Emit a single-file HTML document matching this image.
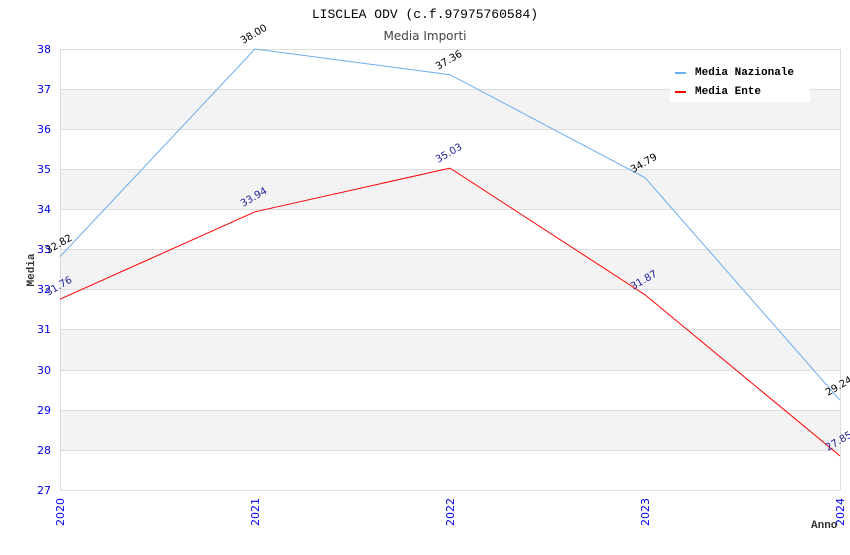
<!DOCTYPE html><html><head><style>body{margin:0;background:#fff}</style></head><body>
<svg width="850" height="550" xmlns="http://www.w3.org/2000/svg" font-family="DejaVu Sans, sans-serif">
<rect width="850" height="550" fill="#fff"/>
<g fill="#f3f3f3">
<rect x="60" y="89" width="780" height="40"/><rect x="60" y="169" width="780" height="40"/><rect x="60" y="249" width="780" height="40"/><rect x="60" y="329" width="780" height="41"/><rect x="60" y="410" width="780" height="40"/>
</g>
<g stroke="#ddd" stroke-width="1">
<line x1="60" y1="49.5" x2="840" y2="49.5"/><line x1="60" y1="89.5" x2="840" y2="89.5"/><line x1="60" y1="129.5" x2="840" y2="129.5"/><line x1="60" y1="169.5" x2="840" y2="169.5"/><line x1="60" y1="209.5" x2="840" y2="209.5"/><line x1="60" y1="249.5" x2="840" y2="249.5"/><line x1="60" y1="289.5" x2="840" y2="289.5"/><line x1="60" y1="329.5" x2="840" y2="329.5"/><line x1="60" y1="370.5" x2="840" y2="370.5"/><line x1="60" y1="410.5" x2="840" y2="410.5"/><line x1="60" y1="450.5" x2="840" y2="450.5"/><line x1="60" y1="490.5" x2="840" y2="490.5"/>
<line x1="60.5" y1="49" x2="60.5" y2="490"/><line x1="840.5" y1="49" x2="840.5" y2="490"/>
</g>
<g fill="#0000ee" font-size="11" text-anchor="end">
<text x="51" y="53">38</text><text x="51" y="93">37</text><text x="51" y="133">36</text><text x="51" y="173">35</text><text x="51" y="213">34</text><text x="51" y="253">33</text><text x="51" y="293">32</text><text x="51" y="333">31</text><text x="51" y="374">30</text><text x="51" y="414">29</text><text x="51" y="454">28</text><text x="51" y="494">27</text>
</g>
<g fill="#0000ee" font-size="11" text-anchor="end">
<text transform="translate(64,498) rotate(-90)">2020</text><text transform="translate(259,498) rotate(-90)">2021</text><text transform="translate(454,498) rotate(-90)">2022</text><text transform="translate(649,498) rotate(-90)">2023</text><text transform="translate(844,498) rotate(-90)">2024</text>
</g>
<text x="425" y="18" text-anchor="middle" font-family="Liberation Mono, monospace" font-size="13" fill="#000">LISCLEA ODV (c.f.97975760584)</text>
<text x="425" y="40" text-anchor="middle" font-size="12" fill="#444">Media Importi</text>
<text transform="translate(34,270) rotate(-90)" text-anchor="middle" font-family="Liberation Mono, monospace" font-weight="bold" font-size="11" fill="#333">Media</text>
<text x="811" y="528" font-family="Liberation Mono, monospace" font-weight="bold" font-size="11" fill="#333">Anno</text>
<polyline fill="none" stroke="#6aaef0" stroke-width="1" points="60,256.7 255,49 450,74.7 645,177.7 840,400.2"/>
<polyline fill="none" stroke="#ff0000" stroke-width="1" points="60,299.2 255,211.8 450,168.1 645,294.8 840,455.9"/>
<g font-size="10" fill="#000">
<text transform="translate(48,254) rotate(-30)">32.82</text><text transform="translate(243,44) rotate(-30)">38.00</text><text transform="translate(438,70) rotate(-30)">37.36</text><text transform="translate(633,173) rotate(-30)">34.79</text><text transform="translate(828,396) rotate(-30)">29.24</text>
</g>
<g font-size="10" fill="#22229a">
<text transform="translate(48,296) rotate(-30)">31.76</text><text transform="translate(243,207) rotate(-30)">33.94</text><text transform="translate(438,163) rotate(-30)">35.03</text><text transform="translate(633,290) rotate(-30)">31.87</text><text transform="translate(828,451) rotate(-30)">27.85</text>
</g>
<rect x="670" y="60" width="140" height="42" fill="#fff"/>
<rect x="675" y="72" width="11" height="2" fill="#6aaef0"/>
<rect x="675" y="91" width="11" height="2" fill="#ff0000"/>
<g font-family="Liberation Mono, monospace" font-weight="bold" font-size="11" fill="#000">
<text x="695" y="75">Media Nazionale</text><text x="695" y="94">Media Ente</text>
</g>
</svg>
</body></html>
